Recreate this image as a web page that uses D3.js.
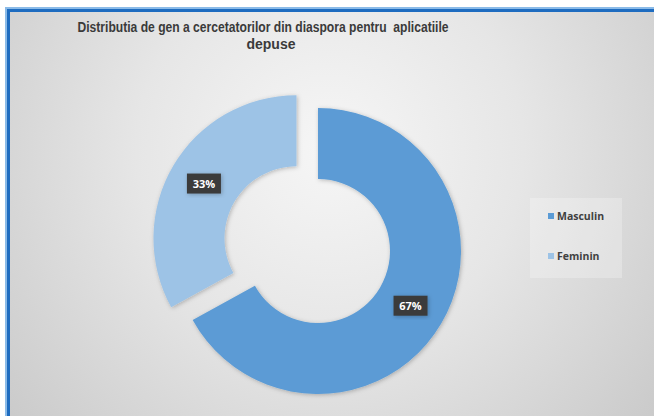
<!DOCTYPE html>
<html>
<head>
<meta charset="utf-8">
<script src="https://cdn.jsdelivr.net/npm/d3@7"></script>
<style>
  html, body { margin: 0; padding: 0; background: #fff; }
  svg { display: block; }
</style>
</head>
<body>
<div id="chart"></div>
<script>
// chart data
const categories = ['Masculin', 'Feminin'];
const values = [67, 33];
const sliceColors = ['#5b9bd5', '#9dc3e6'];
const titleLines = ['Distributia de gen a cercetatorilor din diaspora pentru  aplicatiile', 'depuse'];

const width = 654;
const height = 416;

const svg = d3.select('#chart')
  .append('svg')
  .attr('width', width)
  .attr('height', height)
  .attr('viewBox', `0 0 ${width} ${height}`);

const defs = svg.append('defs');

const bg = defs.append('radialGradient')
  .attr('id', 'bg')
  .attr('gradientUnits', 'userSpaceOnUse')
  .attr('cx', 330).attr('cy', 150).attr('r', 430);
bg.append('stop').attr('offset', '0%').attr('stop-color', '#f6f6f6');
bg.append('stop').attr('offset', '45%').attr('stop-color', '#e6e6e6');
bg.append('stop').attr('offset', '100%').attr('stop-color', '#c9c9c9');

const shadow = defs.append('filter')
  .attr('id', 'shadow')
  .attr('x', '-20%').attr('y', '-20%')
  .attr('width', '140%').attr('height', '140%');
shadow.append('feDropShadow')
  .attr('dx', 1).attr('dy', 1)
  .attr('stdDeviation', 2)
  .attr('flood-color', '#000')
  .attr('flood-opacity', 0.25);

// frame
svg.append('rect')
  .attr('x', 8).attr('y', 10)
  .attr('width', width + 10).attr('height', height + 10)
  .attr('fill', 'url(#bg)');

svg.append('rect')
  .attr('x', 6).attr('y', 8)
  .attr('width', width + 10).attr('height', height + 10)
  .attr('fill', 'none')
  .attr('stroke', '#8bbbe8')
  .attr('stroke-width', 2);

svg.append('rect')
  .attr('x', 8.5).attr('y', 10.5)
  .attr('width', width + 10).attr('height', height + 10)
  .attr('fill', 'none')
  .attr('stroke', '#1e6cc0')
  .attr('stroke-width', 3);

// title
const title = svg.append('text')
  .attr('fill', '#3a3a3a')
  .style('font-family', '"Liberation Sans Narrow", "Arial Narrow", "Liberation Sans", Arial, sans-serif')
  .style('font-weight', 'bold')
  .style('font-size', '14px')
  .attr('text-anchor', 'middle');

title.append('tspan')
  .attr('x', 263).attr('y', 32)
  .attr('textLength', 371)
  .attr('lengthAdjust', 'spacingAndGlyphs')
  .style('white-space', 'pre')
  .text(titleLines[0]);

title.append('tspan')
  .attr('x', 271).attr('y', 49)
  .text(titleLines[1]);

// donut
const cx = 318;
const cy = 251;
const outerR = 143;
const innerR = 72;
const explode = 25;

const pie = d3.pie().sort(null).value(d => d.value);
const arcs = pie(categories.map((c, i) => ({ name: c, value: values[i], color: sliceColors[i] })));
const total = d3.sum(values);

const arc = d3.arc().innerRadius(innerR).outerRadius(outerR);

const chartG = svg.append('g')
  .attr('transform', `translate(${cx},${cy})`);

const offset = (d, i) => {
  if (i !== 1) return [0, 0];
  const mid = (d.startAngle + d.endAngle) / 2;
  return [Math.sin(mid) * explode, -Math.cos(mid) * explode];
};

const slices = chartG.selectAll('g.slice')
  .data(arcs)
  .enter()
  .append('g')
  .attr('class', 'slice')
  .attr('transform', (d, i) => `translate(${offset(d, i)})`);

slices.append('path')
  .attr('d', arc)
  .attr('fill', d => d.data.color)
  .attr('filter', 'url(#shadow)');

const labels = slices.append('g')
  .attr('transform', d => `translate(${arc.centroid(d)})`);

labels.append('rect')
  .attr('x', -17).attr('y', -10)
  .attr('width', 34).attr('height', 20)
  .attr('fill', '#3b3b3b')
  .attr('filter', 'url(#shadow)');

labels.append('text')
  .attr('text-anchor', 'middle')
  .attr('dy', '0.36em')
  .attr('fill', '#ffffff')
  .style('font-family', '"Open Sans", "Liberation Sans", Arial, sans-serif')
  .style('font-weight', 'bold')
  .style('font-size', '11px')
  .text(d => `${Math.round(d.data.value / total * 100)}%`);

// legend
const legend = svg.append('g')
  .attr('transform', 'translate(530,198)');

legend.append('rect')
  .attr('width', 92).attr('height', 80)
  .attr('fill', '#ffffff')
  .attr('fill-opacity', 0.25);

const items = legend.selectAll('g.item')
  .data(categories)
  .enter()
  .append('g')
  .attr('class', 'item')
  .attr('transform', (d, i) => `translate(18,${18 + i * 40})`);

items.append('rect')
  .attr('x', 0).attr('y', -3)
  .attr('width', 6).attr('height', 6)
  .attr('fill', (d, i) => sliceColors[i]);

items.append('text')
  .attr('x', 9)
  .attr('dy', '0.35em')
  .attr('fill', '#404040')
  .style('font-family', '"Open Sans", "Liberation Sans", Arial, sans-serif')
  .style('font-weight', 'bold')
  .style('font-size', '10.5px')
  .text(d => d);
</script>
</body>
</html>
